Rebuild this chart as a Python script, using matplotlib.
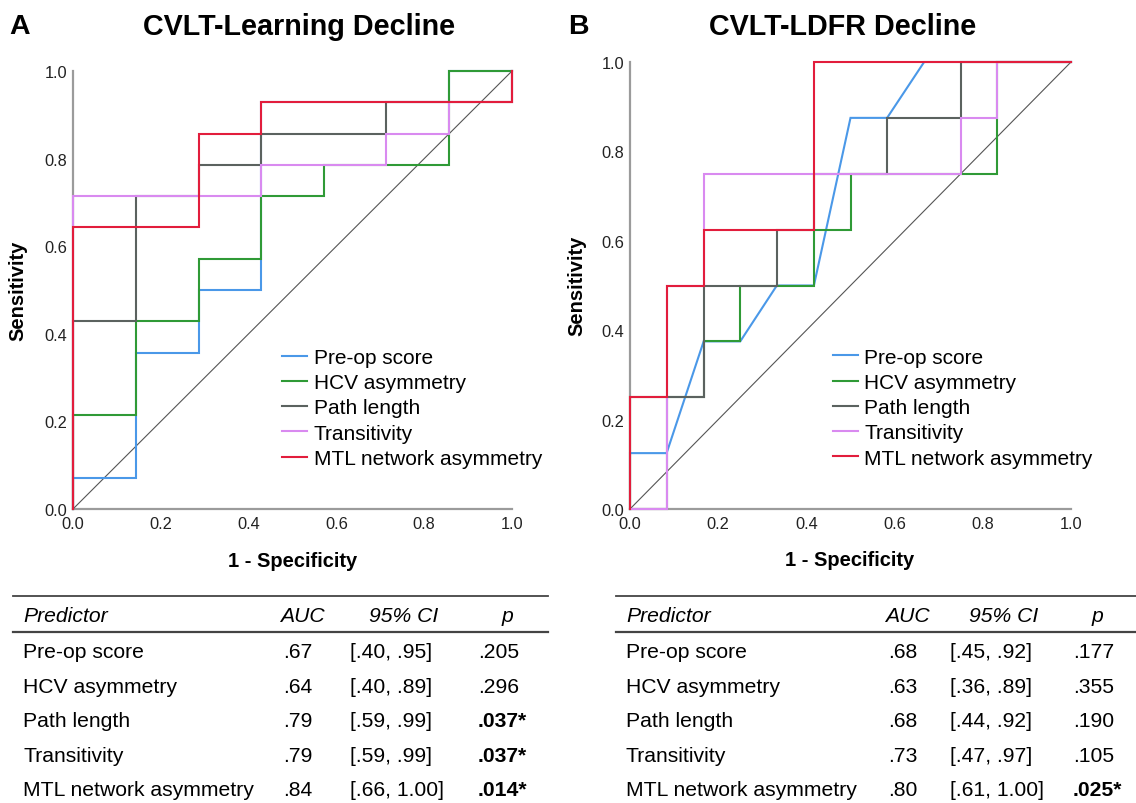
import matplotlib
matplotlib.use("Agg")
import matplotlib.pyplot as plt

plt.rcParams['font.family'] = ['Liberation Sans', 'DejaVu Sans']

# ---- ROC curves, panel A (CVLT-Learning Decline) ----
a_pre_x = [0, 0, 0.143, 0.143, 0.286, 0.286, 0.429, 0.429, 0.857, 0.857, 1.0]
a_pre_y = [0, 0.071, 0.071, 0.357, 0.357, 0.5, 0.5, 0.929, 0.929, 1.0, 1.0]
a_hcv_x = [0, 0, 0.143, 0.143, 0.286, 0.286, 0.429, 0.429, 0.571, 0.571, 0.857, 0.857, 1.0]
a_hcv_y = [0, 0.214, 0.214, 0.429, 0.429, 0.571, 0.571, 0.714, 0.714, 0.786, 0.786, 1.0, 1.0]
a_path_x = [0, 0, 0.143, 0.143, 0.286, 0.286, 0.429, 0.429, 0.714, 0.714, 1.0, 1.0]
a_path_y = [0, 0.429, 0.429, 0.714, 0.714, 0.786, 0.786, 0.857, 0.857, 0.929, 0.929, 1.0]
a_trans_x = [0, 0, 0.429, 0.429, 0.714, 0.714, 0.857, 0.857, 1.0, 1.0]
a_trans_y = [0, 0.714, 0.714, 0.786, 0.786, 0.857, 0.857, 0.929, 0.929, 1.0]
a_mtl_x = [0, 0, 0.286, 0.286, 0.429, 0.429, 1.0, 1.0]
a_mtl_y = [0, 0.643, 0.643, 0.857, 0.857, 0.929, 0.929, 1.0]

# ---- ROC curves, panel B (CVLT-LDFR Decline) ----
b_pre_x = [0, 0, 0.083, 0.167, 0.25, 0.333, 0.417, 0.5, 0.583, 0.667, 1.0]
b_pre_y = [0, 0.125, 0.125, 0.375, 0.375, 0.5, 0.5, 0.875, 0.875, 1.0, 1.0]
b_hcv_x = [0, 0, 0.167, 0.167, 0.25, 0.25, 0.417, 0.417, 0.5, 0.5, 0.833, 0.833, 1.0]
b_hcv_y = [0, 0.25, 0.25, 0.375, 0.375, 0.5, 0.5, 0.625, 0.625, 0.75, 0.75, 1.0, 1.0]
b_path_x = [0, 0.083, 0.083, 0.167, 0.167, 0.333, 0.333, 0.417, 0.417, 0.583, 0.583, 0.75, 0.75, 1.0]
b_path_y = [0, 0, 0.25, 0.25, 0.5, 0.5, 0.625, 0.625, 0.75, 0.75, 0.875, 0.875, 1.0, 1.0]
b_trans_x = [0, 0.083, 0.083, 0.167, 0.167, 0.75, 0.75, 0.833, 0.833, 1.0]
b_trans_y = [0, 0, 0.5, 0.5, 0.75, 0.75, 0.875, 0.875, 1.0, 1.0]
b_mtl_x = [0, 0, 0.083, 0.083, 0.167, 0.167, 0.417, 0.417, 1.0]
b_mtl_y = [0, 0.25, 0.25, 0.5, 0.5, 0.625, 0.625, 1.0, 1.0]

labels = ["Pre-op score", "HCV asymmetry", "Path length", "Transitivity", "MTL network asymmetry"]
colors = ["#4a98e8", "#2f9a36", "#5b625f", "#d98af0", "#e21d3c"]
ticks = [0.0, 0.2, 0.4, 0.6, 0.8, 1.0]

# ---- tables ----
tab_header = ["Predictor", "AUC", "95% CI", "p"]
a_auc = [".67", ".64", ".79", ".79", ".84"]
a_ci = ["[.40, .95]", "[.40, .89]", "[.59, .99]", "[.59, .99]", "[.66, 1.00]"]
a_p = [".205", ".296", ".037*", ".037*", ".014*"]
b_auc = [".68", ".63", ".68", ".73", ".80"]
b_ci = ["[.45, .92]", "[.36, .89]", "[.44, .92]", "[.47, .97]", "[.61, 1.00]"]
b_p = [".177", ".355", ".190", ".105", ".025*"]

W, H = 1136, 804
fig = plt.figure(figsize=(W / 100, H / 100), dpi=100)


def px(x, y):
    return x / W, 1 - y / H


def make_axes(left, right, top, bottom):
    ax = fig.add_axes([left / W, 1 - bottom / H, (right - left) / W, (bottom - top) / H])
    ax.set_xlim(0, 1)
    ax.set_ylim(0, 1)
    for s in ["top", "right"]:
        ax.spines[s].set_visible(False)
    for s in ["left", "bottom"]:
        ax.spines[s].set_color("#9b9b9b")
        ax.spines[s].set_linewidth(1.6)
        ax.spines[s].set_zorder(1)
    ax.set_xticks(ticks)
    ax.set_yticks(ticks)
    ax.set_xticklabels([f"{t:.1f}" for t in ticks])
    ax.set_yticklabels([f"{t:.1f}" for t in ticks])
    ax.tick_params(length=0, labelsize=11.8, colors="#222222")
    ax.tick_params(axis="x", pad=5)
    ax.tick_params(axis="y", pad=4)
    ax.plot([0, 1], [0, 1], color="#555555", lw=0.8, zorder=2)
    return ax


def draw_panel(ax, series, leg_anchor):
    for (xs, ys), lab, col in zip(series, labels, colors):
        ax.plot(xs, ys, color=col, lw=1.5, label=lab, clip_on=False, zorder=3,
                solid_joinstyle="miter")
    ax.legend(loc="upper left", bbox_to_anchor=leg_anchor, frameon=False,
              fontsize=15, handlelength=1.2, handletextpad=0.3,
              labelspacing=0.3, borderpad=0, borderaxespad=0)


def draw_table(x0, x1, cols, auc, ci, pv):
    tx, ax_, cx, pxx, phx = cols
    y_top, y_head, y_mid = 597, 617, 633
    rows = [653, 688, 722, 757, 791]
    fig.add_artist(plt.Line2D([x0 / W, x1 / W], [1 - y_top / H] * 2, color="#444444", lw=1.3))
    fig.add_artist(plt.Line2D([x0 / W, x1 / W], [1 - y_mid / H] * 2, color="#444444", lw=1.6))
    fs = 15.2
    fig.text(*px(tx, y_head), tab_header[0], style="italic", fontsize=fs, va="center")
    fig.text(*px(ax_ - 3, y_head), tab_header[1], style="italic", fontsize=fs, va="center")
    fig.text(*px(cx + 19, y_head), tab_header[2], style="italic", fontsize=fs, va="center")
    fig.text(*px(phx, y_head), tab_header[3], style="italic", fontsize=fs, va="center")
    for i, y in enumerate(rows):
        fig.text(*px(tx, y), labels[i], fontsize=fs, va="center")
        fig.text(*px(ax_, y), auc[i], fontsize=fs, va="center")
        fig.text(*px(cx, y), ci[i], fontsize=fs, va="center")
        bold = "*" in pv[i]
        fig.text(*px(pxx, y), pv[i], fontsize=fs, va="center",
                 fontweight="bold" if bold else "normal")


# panel A
axA = make_axes(73, 512, 72, 510)
draw_panel(axA, [(a_pre_x, a_pre_y), (a_hcv_x, a_hcv_y), (a_path_x, a_path_y),
                 (a_trans_x, a_trans_y), (a_mtl_x, a_mtl_y)], (0.477, 0.368))
# panel B
axB = make_axes(630, 1071, 63, 510)
draw_panel(axB, [(b_pre_x, b_pre_y), (b_hcv_x, b_hcv_y), (b_path_x, b_path_y),
                 (b_trans_x, b_trans_y), (b_mtl_x, b_mtl_y)], (0.460, 0.361))

# titles, panel letters, axis labels
fig.text(*px(9, 27), "A", fontsize=20.5, fontweight="bold", va="center")
fig.text(*px(299, 27), "CVLT-Learning Decline", fontsize=20.7, fontweight="bold", va="center", ha="center")
fig.text(*px(568, 27), "B", fontsize=20.5, fontweight="bold", va="center")
fig.text(*px(843, 27), "CVLT-LDFR Decline", fontsize=20.7, fontweight="bold", va="center", ha="center")

fig.text(*px(293, 562), "1 - Specificity", fontsize=14.5, fontweight="bold", ha="center", va="center")
fig.text(*px(850, 560), "1 - Specificity", fontsize=14.5, fontweight="bold", ha="center", va="center")
fig.text(*px(18, 291), "Sensitivity", fontsize=14.5, fontweight="bold", rotation=90, ha="center", va="center")
fig.text(*px(577, 286), "Sensitivity", fontsize=14.5, fontweight="bold", rotation=90, ha="center", va="center")

draw_table(13, 548, (23, 283, 350, 478, 502), a_auc, a_ci, a_p)
draw_table(616, 1136, (626, 888, 950, 1073, 1092), b_auc, b_ci, b_p)

fig.savefig("out.png", dpi=100)
